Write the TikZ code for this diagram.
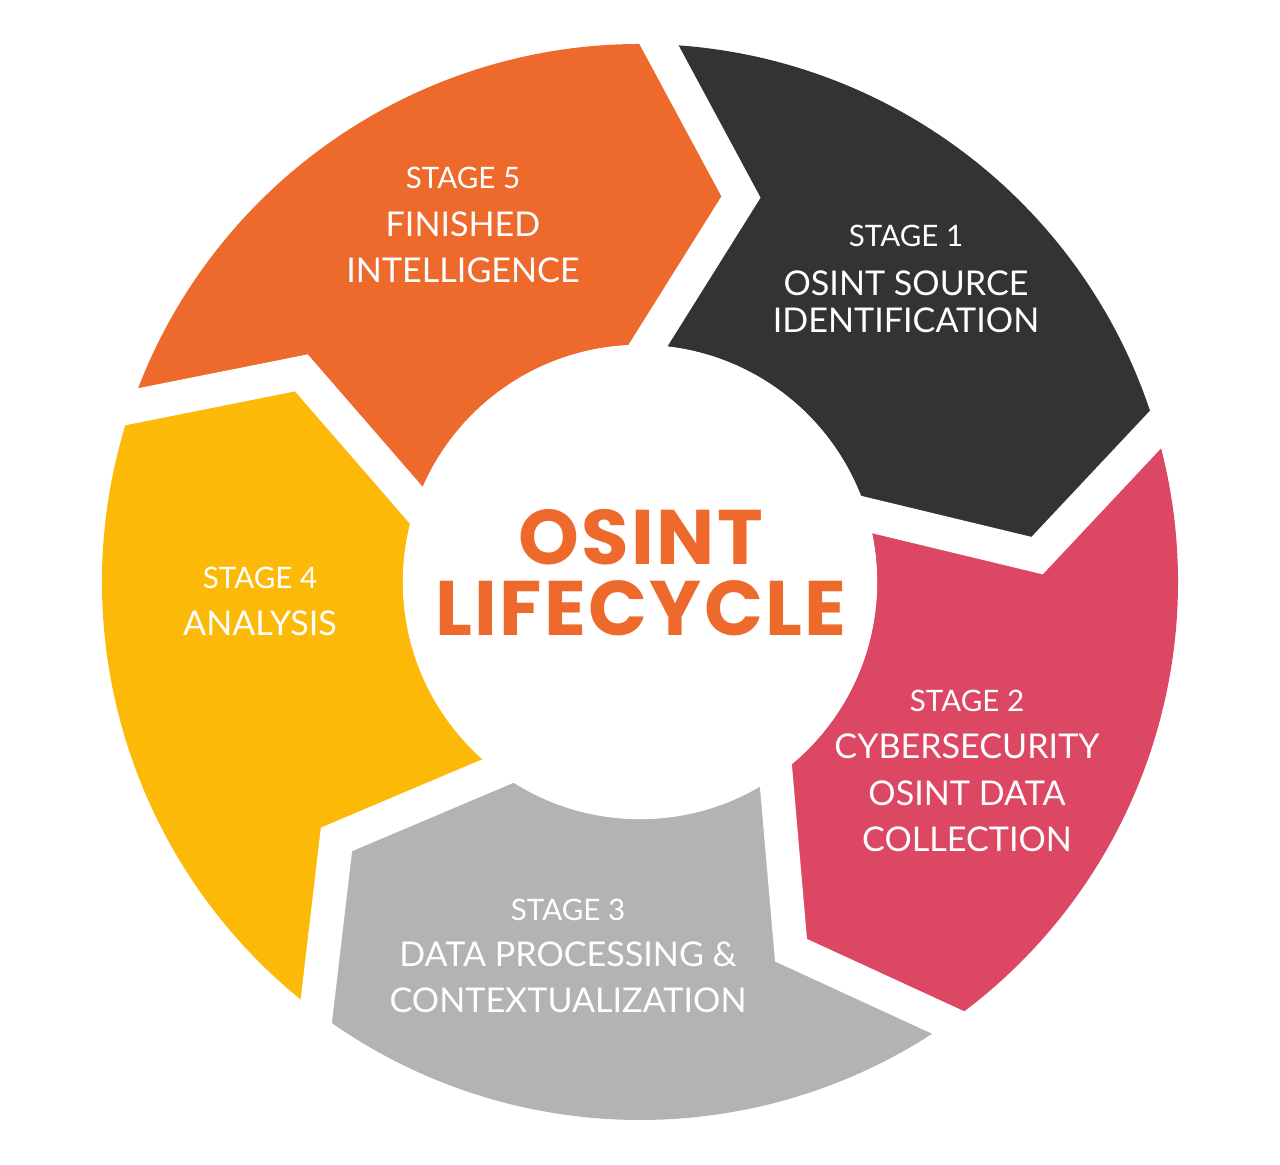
\documentclass[tikz,border=0pt]{standalone}
\usepackage{fontspec}
\setmainfont{Lato}
\newfontfamily\titlefont[LetterSpace=3]{Poppins}
\usepackage{tikz}
\usetikzlibrary{calc}
\usepackage{xcolor}
\definecolor{ColFive}{RGB}{238,105,44}
\definecolor{ColOne}{RGB}{51,51,51}
\definecolor{ColTwo}{RGB}{220,71,99}
\definecolor{ColThree}{RGB}{178,179,179}
\definecolor{ColFour}{RGB}{252,185,8}
\tikzstyle{StageTag}=[text=white,inner sep=0pt,font=\fontsize{8.4}{9}\selectfont]
\tikzstyle{StageName}=[text=white,inner sep=0pt,align=center,font=\fontsize{9.7}{13.2}\selectfont]
\tikzstyle{GapLine}=[white,line width=9.6pt,line join=miter]
\tikzstyle{Hub}=[circle,fill=white,inner sep=0pt,minimum size=4.74cm]
\tikzstyle{TitleText}=[text=ColFive,inner sep=0pt,align=center,
font=\titlefont\bfseries\fontsize{22}{20.2}\selectfont]

\begin{document}
\begin{tikzpicture}[x=0.01cm,y=0.01cm]
        \useasboundingbox (-640,-583) rectangle (640,582);
        % ring segments, clockwise
        \fill[ColOne](88:538)arc[start angle=88,end angle=16.5,radius=538]--(3.8:398)
            --(16.5:237)arc[start angle=16.5,end angle=88,radius=237]--(75.3:398)--cycle;
        \fill[ColTwo](16.5:538)arc[start angle=16.5,end angle=-55,radius=538]--(-67.7:398)
            --(-55:237)arc[start angle=-55,end angle=16.5,radius=237]--(3.8:398)--cycle;
        \fill[ColThree](-55:538)arc[start angle=-55,end angle=-127,radius=538]--(-139.7:398)
            --(-127:237)arc[start angle=-127,end angle=-55,radius=237]--(-67.7:398)--cycle;
        \fill[ColFour](-127:538)arc[start angle=-127,end angle=-199,radius=538]--(-211.7:398)
            --(-199:237)arc[start angle=-199,end angle=-127,radius=237]--(-139.7:398)--cycle;
        \fill[ColFive](161:538)arc[start angle=161,end angle=88,radius=538]--(75.3:398)
            --(88:237)arc[start angle=88,end angle=161,radius=237]--(148.3:398)--cycle;
        % white gaps
        \draw[GapLine]($(75.3:398)!1.3!(88:538)$)--(75.3:398)--($(75.3:398)!1.3!(88:237)$);
        \draw[GapLine]($(3.8:398)!1.3!(16.5:538)$)--(3.8:398)--($(3.8:398)!1.3!(16.5:237)$);
        \draw[GapLine]($(-67.7:398)!1.3!(-55:538)$)--(-67.7:398)--($(-67.7:398)!1.3!(-55:237)$);
        \draw[GapLine]($(-139.7:398)!1.3!(-127:538)$)--(-139.7:398)--($(-139.7:398)!1.3!(-127:237)$);
        \draw[GapLine]($(148.3:398)!1.3!(161:538)$)--(148.3:398)--($(148.3:398)!1.3!(161:237)$);
        % centre
        \node[Hub](hub)at(0,0){};
        \node[TitleText](title)at(1,9.5){OSINT\\LIFECYCLE};
        % labels
        \node[StageTag](tagOne)at(266,346){STAGE 1};
        \node[StageName,font=\fontsize{9.7}{10.6}\selectfont](nameOne)at(266,280){OSINT SOURCE\\IDENTIFICATION};
        \node[StageTag](tagTwo)at(327,-119){STAGE 2};
        \node[StageName](nameTwo)at(327,-211){CYBERSECURITY\\OSINT DATA\\COLLECTION};
        \node[StageTag](tagThree)at(-72,-328){STAGE 3};
        \node[StageName](nameThree)at(-72,-395.5){DATA PROCESSING \&\\CONTEXTUALIZATION};
        \node[StageTag](tagFour)at(-380,4){STAGE 4};
        \node[StageName](nameFour)at(-380,-41){ANALYSIS};
        \node[StageTag](tagFive)at(-177,404){STAGE 5};
        \node[StageName](nameFive)at(-177,334.5){FINISHED\\INTELLIGENCE};
    \end{tikzpicture}
\end{document}
